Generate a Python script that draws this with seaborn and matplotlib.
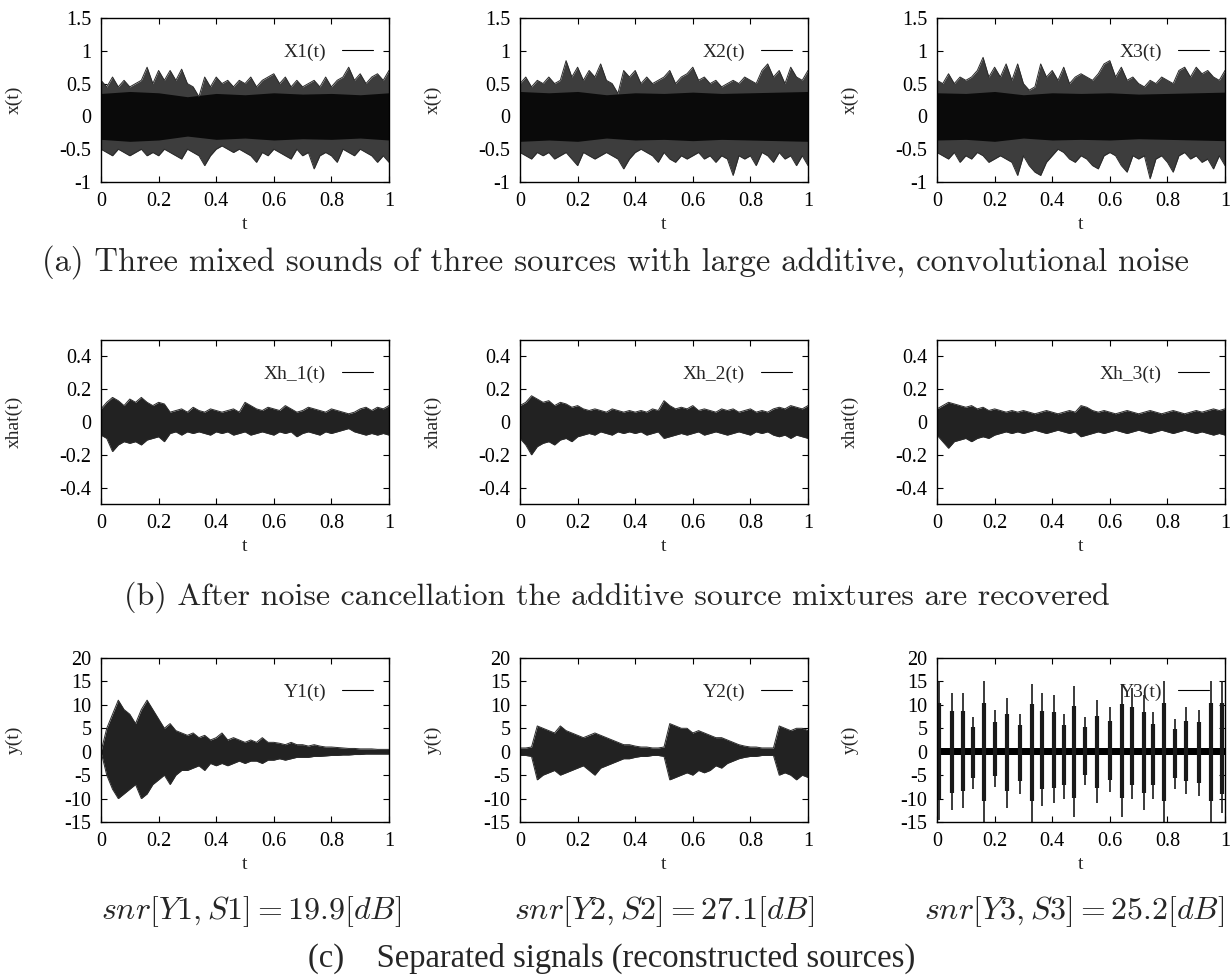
import numpy as np
import matplotlib
matplotlib.use("Agg")
import matplotlib.pyplot as plt
import seaborn as sns

# ==================== Data (envelopes) ====================
# upper / lower envelope of each dense waveform, sampled every 0.02 in t
x1_up = [0.55, 0.45, 0.6, 0.45, 0.55, 0.45, 0.5, 0.55, 0.75, 0.5, 0.7, 0.55, 0.7, 0.55, 0.72, 0.5, 0.45,
         0.3, 0.6, 0.45, 0.6, 0.5, 0.55, 0.45, 0.55, 0.5, 0.6, 0.45, 0.55, 0.6, 0.65, 0.5, 0.6, 0.45,
         0.55, 0.45, 0.5, 0.55, 0.45, 0.6, 0.45, 0.55, 0.6, 0.75, 0.55, 0.65, 0.5, 0.6, 0.65, 0.55, 0.7]
x1_lo = [-0.5, -0.55, -0.6, -0.5, -0.55, -0.6, -0.55, -0.5, -0.6, -0.55, -0.6, -0.5, -0.55, -0.6, -0.65,
         -0.5, -0.55, -0.6, -0.75, -0.6, -0.5, -0.45, -0.5, -0.55, -0.5, -0.55, -0.6, -0.7, -0.55, -0.6,
         -0.5, -0.55, -0.6, -0.65, -0.5, -0.6, -0.55, -0.8, -0.6, -0.55, -0.6, -0.7, -0.5, -0.55, -0.6,
         -0.5, -0.55, -0.6, -0.7, -0.6, -0.7]
x2_up = [0.5, 0.6, 0.45, 0.55, 0.5, 0.6, 0.5, 0.55, 0.85, 0.6, 0.75, 0.55, 0.7, 0.6, 0.8, 0.55, 0.5,
         0.35, 0.7, 0.6, 0.7, 0.5, 0.6, 0.5, 0.55, 0.6, 0.7, 0.5, 0.6, 0.65, 0.75, 0.55, 0.6, 0.5, 0.55,
         0.45, 0.5, 0.55, 0.5, 0.6, 0.55, 0.5, 0.7, 0.8, 0.6, 0.7, 0.5, 0.75, 0.6, 0.55, 0.7]
x2_lo = [-0.55, -0.6, -0.65, -0.55, -0.6, -0.55, -0.65, -0.6, -0.55, -0.65, -0.75, -0.55, -0.6, -0.65,
         -0.6, -0.55, -0.6, -0.65, -0.8, -0.65, -0.55, -0.5, -0.55, -0.6, -0.7, -0.55, -0.65, -0.7, -0.6,
         -0.65, -0.6, -0.55, -0.65, -0.6, -0.7, -0.6, -0.65, -0.9, -0.6, -0.65, -0.6, -0.75, -0.55, -0.6,
         -0.7, -0.55, -0.65, -0.6, -0.75, -0.6, -0.75]
x3_up = [0.55, 0.5, 0.65, 0.5, 0.6, 0.55, 0.6, 0.7, 0.9, 0.6, 0.75, 0.6, 0.8, 0.55, 0.8, 0.5, 0.4, 0.45,
         0.8, 0.6, 0.7, 0.55, 0.75, 0.5, 0.6, 0.65, 0.6, 0.55, 0.65, 0.8, 0.85, 0.6, 0.75, 0.55, 0.6, 0.5,
         0.45, 0.55, 0.5, 0.6, 0.55, 0.5, 0.7, 0.75, 0.6, 0.75, 0.65, 0.7, 0.6, 0.55, 0.7]
x3_lo = [-0.55, -0.6, -0.65, -0.55, -0.7, -0.6, -0.65, -0.55, -0.6, -0.7, -0.65, -0.6, -0.65, -0.7, -0.9,
         -0.6, -0.75, -0.85, -0.9, -0.7, -0.6, -0.5, -0.55, -0.65, -0.7, -0.6, -0.65, -0.75, -0.8, -0.6,
         -0.55, -0.6, -0.75, -0.85, -0.6, -0.65, -0.6, -0.95, -0.65, -0.6, -0.7, -0.85, -0.6, -0.55, -0.65,
         -0.6, -0.7, -0.65, -0.8, -0.6, -0.75]
# dense black core of the mixtures, every 0.1 in t
x1_core = [0.35, 0.38, 0.36, 0.3, 0.35, 0.33, 0.36, 0.34, 0.35, 0.33, 0.36]
x2_core = [0.38, 0.36, 0.38, 0.33, 0.36, 0.35, 0.37, 0.35, 0.36, 0.37, 0.38]
x3_core = [0.36, 0.35, 0.38, 0.33, 0.36, 0.35, 0.36, 0.34, 0.35, 0.36, 0.37]

xh1_up = [0.08, 0.12, 0.15, 0.13, 0.1, 0.14, 0.12, 0.15, 0.12, 0.1, 0.12, 0.11, 0.06, 0.07, 0.08, 0.06,
          0.09, 0.07, 0.06, 0.08, 0.07, 0.06, 0.07, 0.08, 0.06, 0.12, 0.1, 0.08, 0.07, 0.09, 0.08, 0.07,
          0.1, 0.08, 0.06, 0.07, 0.09, 0.08, 0.07, 0.06, 0.08, 0.07, 0.06, 0.05, 0.06, 0.08, 0.09, 0.07,
          0.09, 0.08, 0.1]
xh1_lo = [-0.08, -0.1, -0.18, -0.14, -0.12, -0.13, -0.12, -0.14, -0.11, -0.1, -0.09, -0.12, -0.07, -0.06,
          -0.08, -0.06, -0.07, -0.06, -0.07, -0.08, -0.06, -0.07, -0.06, -0.08, -0.07, -0.06, -0.08, -0.07,
          -0.06, -0.07, -0.08, -0.06, -0.07, -0.06, -0.09, -0.07, -0.06, -0.07, -0.08, -0.06, -0.07, -0.06,
          -0.05, -0.04, -0.06, -0.07, -0.08, -0.07, -0.08, -0.07, -0.08]
xh2_up = [0.1, 0.12, 0.16, 0.14, 0.12, 0.13, 0.1, 0.12, 0.11, 0.09, 0.1, 0.08, 0.07, 0.08, 0.07, 0.06,
          0.08, 0.07, 0.06, 0.07, 0.06, 0.07, 0.06, 0.08, 0.07, 0.13, 0.1, 0.08, 0.09, 0.08, 0.1, 0.07,
          0.08, 0.07, 0.06, 0.08, 0.07, 0.08, 0.06, 0.07, 0.08, 0.06, 0.07, 0.06, 0.08, 0.09, 0.08, 0.1,
          0.09, 0.08, 0.1]
xh2_lo = [-0.1, -0.14, -0.2, -0.15, -0.13, -0.12, -0.14, -0.11, -0.1, -0.12, -0.09, -0.08, -0.07, -0.08,
          -0.06, -0.07, -0.08, -0.06, -0.07, -0.06, -0.07, -0.06, -0.08, -0.07, -0.06, -0.1, -0.09, -0.08,
          -0.07, -0.08, -0.07, -0.06, -0.08, -0.07, -0.06, -0.07, -0.08, -0.07, -0.06, -0.07, -0.08, -0.06,
          -0.07, -0.06, -0.08, -0.09, -0.08, -0.1, -0.08, -0.09, -0.1]
xh3_up = [0.08, 0.1, 0.12, 0.11, 0.1, 0.09, 0.1, 0.08, 0.09, 0.07, 0.08, 0.07, 0.06, 0.07, 0.06, 0.07,
          0.06, 0.05, 0.06, 0.07, 0.06, 0.05, 0.06, 0.07, 0.06, 0.1, 0.09, 0.07, 0.06, 0.07, 0.06, 0.05,
          0.06, 0.07, 0.06, 0.05, 0.06, 0.07, 0.06, 0.05, 0.06, 0.07, 0.06, 0.05, 0.06, 0.07, 0.06, 0.07,
          0.08, 0.07, 0.08]
xh3_lo = [-0.08, -0.12, -0.16, -0.12, -0.11, -0.1, -0.12, -0.1, -0.09, -0.1, -0.08, -0.07, -0.06, -0.07,
          -0.06, -0.07, -0.06, -0.05, -0.06, -0.07, -0.06, -0.05, -0.06, -0.07, -0.06, -0.09, -0.08, -0.07,
          -0.06, -0.07, -0.06, -0.05, -0.06, -0.07, -0.06, -0.05, -0.06, -0.07, -0.06, -0.05, -0.06, -0.07,
          -0.06, -0.05, -0.06, -0.07, -0.06, -0.07, -0.08, -0.07, -0.08]

y1_up = [0, 5, 8, 11, 9, 8, 6, 9, 11, 9, 7, 5, 6, 4.5, 4, 3.5, 4, 3, 3.5, 2.5, 3, 4, 2.5, 3, 2.5, 2, 2.5,
         2, 3, 2, 2, 1.8, 1.5, 2, 1.5, 1.5, 1.2, 1.5, 1.2, 1.0, 1.0, 0.9, 0.8, 0.7, 0.7, 0.6, 0.6, 0.6, 0.5,
         0.5, 0.5]
y1_lo = [0, -5, -8, -10, -9, -8, -7, -10, -9, -7, -6, -5, -7, -5, -4, -4, -3.5, -3, -4, -2.5, -3, -2.5, -3,
         -2.5, -2, -2.5, -2, -2, -2.5, -1.8, -1.8, -1.5, -1.8, -1.5, -1.2, -1.2, -1.2, -1, -1, -0.9, -0.8,
         -0.8, -0.7, -0.7, -0.6, -0.6, -0.5, -0.5, -0.5, -0.5, -0.5]
y2_up = [0.8, 0.8, 1, 5.5, 5, 4.5, 4, 5.5, 4.5, 4, 3.5, 3, 3.5, 4, 3.5, 3, 2.5, 2, 1.5, 1.5, 1.2, 1, 1,
         0.8, 0.8, 1, 6, 5.5, 5, 5, 4, 4.5, 4, 3.5, 3, 3, 2.5, 2, 1.5, 1.2, 1, 1, 0.8, 0.8, 0.8, 5.5, 5,
         4.5, 5, 5, 4.5]
y2_lo = [-0.8, -0.8, -1, -6, -5, -4.5, -4, -5, -4.5, -4, -3.5, -3, -4, -5, -3.5, -3, -2.5, -2, -1.5, -1.5,
         -1.2, -1, -1, -0.8, -0.8, -1, -6, -5.5, -5, -4.5, -5, -4, -4.5, -4, -3, -3.5, -2.5, -2, -1.5, -1.2,
         -1, -1, -0.8, -0.8, -0.8, -5, -4.5, -5, -6, -5, -5.5]

# Y3: bursts of the impulsive source
y3_t = [0.008, 0.052, 0.089, 0.125, 0.164, 0.2, 0.242, 0.288, 0.329, 0.366, 0.407, 0.442, 0.476,
        0.513, 0.554, 0.601, 0.642, 0.677, 0.719, 0.75, 0.788, 0.825, 0.865, 0.908, 0.952, 0.99]
y3_up = [15, 12.5, 12.5, 7.5, 15, 9, 11.5, 8, 14.5, 12.5, 12, 8, 14, 7.5, 11, 9.5, 14.5, 13.5, 12, 8.5,
         15, 7, 9.5, 9, 15, 15]
y3_lo = [-14.5, -12.5, -12, -8, -15, -7.5, -12, -9, -15, -11.5, -11, -10, -14, -7, -11, -8.5, -14, -10,
         -12.5, -10, -15, -8, -9, -9.5, -15, -13]

panel_names = [["X1(t)", "X2(t)", "X3(t)"],
               ["Xh_1(t)", "Xh_2(t)", "Xh_3(t)"],
               ["Y1(t)", "Y2(t)", "Y3(t)"]]
row_ylabels = ["x(t)", "xhat(t)", "y(t)"]
row_ylims = [(-1, 1.5), (-0.5, 0.5), (-15, 20)]
row_yticks = [[-1, -0.5, 0, 0.5, 1, 1.5], [-0.4, -0.2, 0, 0.2, 0.4], [-15, -10, -5, 0, 5, 10, 15, 20]]
x_ticks = [0, 0.2, 0.4, 0.6, 0.8, 1]
captions = ["(a) Three mixed sounds of three sources with large additive, convolutional noise",
            "(b) After noise cancellation the additive source mixtures are recovered"]
caption_c = "(c)    Separated signals (reconstructed sources)"
snr_labels = [r"$snr[Y1,S1]=19.9[dB]$", r"$snr[Y2,S2]=27.1[dB]$", r"$snr[Y3,S3]=25.2[dB]$"]

envelopes = [[(x1_up, x1_lo), (x2_up, x2_lo), (x3_up, x3_lo)],
             [(xh1_up, xh1_lo), (xh2_up, xh2_lo), (xh3_up, xh3_lo)],
             [(y1_up, y1_lo), (y2_up, y2_lo), None]]
cores = [x1_core, x2_core, x3_core]

# ==================== Style ====================
sns.set_theme(style="ticks")
plt.rcParams['font.family'] = ['Liberation Serif', 'DejaVu Serif']
plt.rcParams['mathtext.fontset'] = 'cm'
plt.rcParams['axes.unicode_minus'] = False

W, H = 1232, 980
fig = plt.figure(figsize=(W / 100, H / 100), dpi=100)
fig.patch.set_facecolor('white')

lefts = [101, 520, 937]
tops = [18, 340, 658]
AW, AH = 288, 164


def fmt(v):
    return f"{v:g}"


for r in range(3):
    for c in range(3):
        ax = fig.add_axes([lefts[c] / W, 1 - (tops[r] + AH) / H, AW / W, AH / H])
        env = envelopes[r][c]
        if env is not None:
            up, lo = env
            t = np.linspace(0, 1, len(up))
            outer = '#3d3d3d' if r == 0 else '#222222'
            ax.fill_between(t, lo, up, color=outer, lw=0)
            sns.lineplot(x=t, y=up, ax=ax, color='#2a2a2a', lw=0.7)
            sns.lineplot(x=t, y=lo, ax=ax, color='#2a2a2a', lw=0.7)
            if r == 0:
                core = cores[c]
                tc = np.linspace(0, 1, len(core))
                ax.fill_between(tc, -np.array(core), core, color='#0a0a0a', lw=0)
        else:
            ax.vlines(y3_t, y3_lo, y3_up, color='#1a1a1a', lw=1.2)
            ax.vlines(y3_t, np.array(y3_lo) * 0.7, np.array(y3_up) * 0.7, color='#1a1a1a', lw=3.0)
            ax.fill_between([0, 1], [-0.8, -0.8], [0.8, 0.8], color='black', lw=0)
        ax.plot([], [], color='black', lw=0.8, label=panel_names[r][c])
        ax.legend(loc='upper right', bbox_to_anchor=(1.038, 1.012), frameon=False, markerfirst=False,
                  handlelength=1.6, fontsize=14, borderaxespad=1.0, handletextpad=0.8)

        ax.set_xlim(0, 1)
        ax.set_ylim(*row_ylims[r])
        ax.set_xticks(x_ticks)
        ax.set_xticklabels([fmt(v) for v in x_ticks], fontsize=14.5)
        ax.set_yticks(row_yticks[r])
        ax.set_yticklabels([fmt(v) for v in row_yticks[r]], fontsize=14.5)
        ax.tick_params(direction='in', top=True, right=True, length=4, width=0.8, pad=7, colors='black')
        for s in ax.spines.values():
            s.set_linewidth(1.0)
            s.set_color('black')
        ax.set_xlabel("t", fontsize=14, labelpad=4)
        ax.set_ylabel(row_ylabels[r], fontsize=14)
        ax.yaxis.set_label_coords(-78 / AW, 0.5)
        ax.grid(False)

fig.text(615 / W, 1 - 262 / H, captions[0], ha='center', va='center', fontsize=23.5,
         family=['cmr10', 'DejaVu Serif'])
fig.text(617 / W, 1 - 597 / H, captions[1], ha='center', va='center', fontsize=23,
         family=['cmr10', 'DejaVu Serif'])
for xc, s in zip([251, 664, 1074], snr_labels):
    fig.text(xc / W, 1 - 912 / H, s, ha='center', va='center', fontsize=23)
fig.text(612 / W, 1 - 958 / H, caption_c, ha='center', va='center', fontsize=23.5)

plt.savefig("out.png", dpi=100)
